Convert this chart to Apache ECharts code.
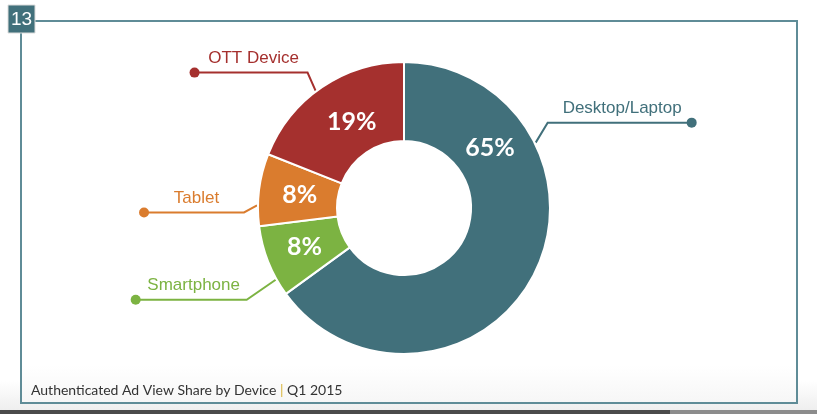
<!DOCTYPE html>
<html><head><meta charset="utf-8">
<script src="https://cdn.jsdelivr.net/npm/echarts@6/dist/echarts.min.js"></script>
<style>html,body{margin:0;padding:0;background:#fff}#c{width:817px;height:414px}</style>
</head><body><div id="c"></div>
<script>
// ---- data ----
const categories = ['Desktop/Laptop', 'Smartphone', 'Tablet', 'OTT Device'];
const shares = [65, 8, 8, 19];
const badgeLabel = '13';
const footerTitle = 'Authenticated Ad View Share by Device';
const footerPeriod = 'Q1 2015';

// ---- styling ----
const sliceColors = ['#41707b', '#7cb342', '#da7c2e', '#a5302e'];
const CX = 404, CY = 208, R_IN = 67, R_OUT = 146;
const leaderAnchorDeg = [63.6, 240.8, 271, 323];
const leaderElbow = [[12, -20], [-29, 20], [-13, 7], [-8, -18]];
const leaderRun = [144, -111, -100, -113];
const pctDeg = [54.9, 248.6, 277, 328.8];
const pctRad = [105, 107, 105, 101];
const DOT = 5;
const LABEL_FONT = '"Liberation Sans", Arial, Helvetica, sans-serif';

function polar(deg, r) {
  const a = deg * Math.PI / 180;
  return [CX + r * Math.sin(a), CY - r * Math.cos(a)];
}

const chart = echarts.init(document.getElementById('c'), null, { renderer: 'canvas' });

const nameData = categories.map((n, i) => {
  const left = leaderRun[i] < 0;
  return {
    name: n, value: shares[i],
    itemStyle: { color: sliceColors[i] },
    label: {
      rich: {
        t: { width: Math.abs(leaderRun[i]) + DOT, align: 'center', fontSize: 17, lineHeight: 18,
             padding: left ? [0, 0, 0, 5] : [0, 0, 0, 0],
             color: sliceColors[i], fontFamily: LABEL_FONT },
        d: { width: DOT * 2, height: DOT * 2, lineHeight: DOT * 2, borderRadius: DOT,
             backgroundColor: sliceColors[i], align: left ? 'left' : 'right', fontSize: 1 }
      }
    },
    labelLine: { lineStyle: { color: sliceColors[i] } }
  };
});

const option = {
  animation: false,
  backgroundColor: { type: 'linear', x: 0, y: 0, x2: 0, y2: 1,
    colorStops: [{ offset: 0, color: '#ffffff' }, { offset: 0.92, color: '#ffffff' }, { offset: 1, color: '#ececec' }] },
  graphic: [
    { type: 'rect', z: -10, shape: { x: 21, y: 21, width: 776, height: 382 },
      style: { fill: { type: 'linear', x: 0, y: 0, x2: 0, y2: 1,
        colorStops: [{ offset: 0, color: '#ffffff' }, { offset: 0.9, color: '#ffffff' }, { offset: 1, color: '#f6f6f6' }] },
        stroke: '#5f8c97', lineWidth: 2 } },
    { type: 'rect', z: 5, shape: { x: 8, y: 5, width: 27, height: 28 },
      style: { fill: '#41707b', stroke: '#dcdcdc', lineWidth: 1 } },
    { type: 'text', z: 6, x: 21.5, y: 19.5,
      style: { text: badgeLabel, fill: '#ffffff', font: '19px ' + LABEL_FONT, align: 'center', verticalAlign: 'middle' } },
    { type: 'text', z: 6, x: 31, y: 390,
      style: { text: '{m|' + footerTitle + ' }{g||}{m| ' + footerPeriod + '}', verticalAlign: 'middle', align: 'left',
        rich: { m: { fontFamily: 'Lato', fontSize: 14, fill: '#333333', color: '#333333' },
                g: { fontFamily: 'Lato', fontSize: 14, fill: '#d9b43a', color: '#d9b43a' } } } },
    { type: 'rect', z: 5, shape: { x: 0, y: 410, width: 670, height: 4 }, style: { fill: '#4b4b4b' } },
    { type: 'rect', z: 5, shape: { x: 670, y: 410, width: 147, height: 4 }, style: { fill: '#8c8c8c' } }
  ],
  series: [
    {
      type: 'pie', center: [CX, CY], radius: [R_IN, R_OUT], startAngle: 90, clockwise: true,
      itemStyle: { borderColor: '#ffffff', borderWidth: 2 },
      label: { show: true, position: 'outside', formatter: '{t|{b}}\n{d| }' },
      labelLine: { show: true, length: 10, length2: 10, lineStyle: { width: 2 } },
      emphasis: { disabled: true },
      labelLayout: function (p) {
        const i = p.dataIndex;
        const a = polar(leaderAnchorDeg[i], R_OUT + 1);
        const e = [a[0] + leaderElbow[i][0], a[1] + leaderElbow[i][1]];
        const end = [e[0] + leaderRun[i], e[1]];
        const left = leaderRun[i] < 0;
        return { x: left ? end[0] - DOT : end[0] + DOT, y: end[1] + DOT,
                 align: left ? 'left' : 'right', verticalAlign: 'bottom', labelLinePoints: [a, e, end] };
      },
      data: nameData
    },
    {
      type: 'pie', center: [CX, CY], radius: [R_IN, R_OUT], startAngle: 90, clockwise: true,
      silent: true, z: 3,
      itemStyle: { color: 'rgba(0,0,0,0)', borderWidth: 0 },
      label: { show: true, position: 'inside', formatter: '{c}%', color: '#ffffff',
               fontFamily: 'Lato', fontWeight: 'bold', fontSize: 25 },
      labelLine: { show: false },
      emphasis: { disabled: true },
      labelLayout: function (p) {
        const q = polar(pctDeg[p.dataIndex], pctRad[p.dataIndex]);
        return { x: q[0], y: q[1], align: 'center', verticalAlign: 'middle' };
      },
      data: shares.map((v, i) => ({ name: categories[i], value: v }))
    }
  ]
};
chart.setOption(option);
</script>
</body></html>
